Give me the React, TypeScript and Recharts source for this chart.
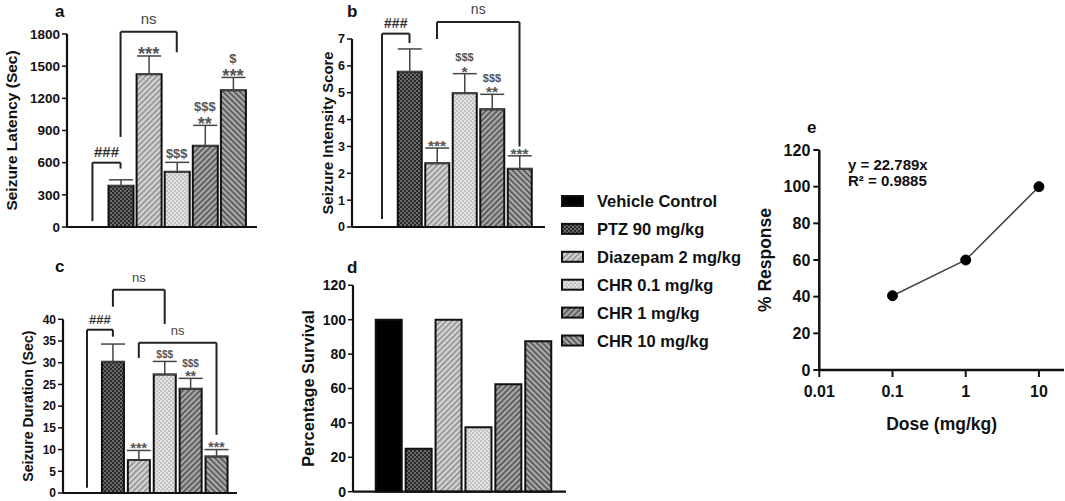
import { Bar, Cell, ComposedChart, ErrorBar, LabelList, Line, LineChart, ReferenceLine, XAxis, YAxis } from "recharts";

const FONT = '"Liberation Sans", Arial, Helvetica, sans-serif';
const INK = "#111";

const GROUPS = ["Vehicle Control", "PTZ 90 mg/kg", "Diazepam 2 mg/kg", "CHR 0.1 mg/kg", "CHR 1 mg/kg", "CHR 10 mg/kg"];
const FILLS = ["#000", "url(#pat-ptz)", "url(#pat-diaz)", "url(#pat-chr01)", "url(#pat-chr1)", "url(#pat-chr10)"];

// a: seizure latency (sec)
const latency = [null, 385, 1425, 515, 758, 1275];
const latencyErr = [null, 55, 170, 88, 190, 120];
const latencySig = ["", "", "***", "$$$", "$$$|**", "$|***"];
const latencyTicks = [0, 300, 600, 900, 1200, 1500, 1800];

// b: seizure intensity score
const intensity = [null, 5.78, 2.37, 4.98, 4.38, 2.17];
const intensityErr = [null, 0.85, 0.57, 0.73, 0.56, 0.48];
const intensitySig = ["", "", "***", "$$$|*", "$$$|**", "***"];
const intensityTicks = [0, 1, 2, 3, 4, 5, 6, 7];

// c: seizure duration (sec)
const duration = [null, 30.2, 7.6, 27.3, 24.0, 8.4];
const durationErr = [null, 4.1, 2.2, 3.0, 2.4, 1.6];
const durationSig = ["", "", "***", "$$$", "$$$|**", "***"];
const durationTicks = [0, 5, 10, 15, 20, 25, 30, 35, 40];

// d: percentage survival
const survival = [100, 25, 100, 37.5, 62.5, 87.5];
const survivalTicks = [0, 20, 40, 60, 80, 100, 120];

// e: dose response
const doses = [0.1, 1, 10];
const response = [40.5, 60, 100];
const doseTicks = [0.01, 0.1, 1, 10];
const responseTicks = [0, 20, 40, 60, 80, 100, 120];

type Bracket = { from: number; to: number; top: number; leftEnd: number; rightEnd: number; text: string };

const latencyBrackets: Bracket[] = [
  { from: 0, to: 1, top: 600, leftEnd: 55, rightEnd: 545, text: "###" },
  { from: 1, to: 3, top: 1820, leftEnd: 840, rightEnd: 1630, text: "ns" },
];
const intensityBrackets: Bracket[] = [
  { from: 0, to: 1, top: 7.2, leftEnd: 0.3, rightEnd: 6.85, text: "###" },
  { from: 2, to: 5, top: 7.63, leftEnd: 7.0, rightEnd: 3.0, text: "ns" },
];
const durationBrackets: Bracket[] = [
  { from: 0, to: 1, top: 37.6, leftEnd: 1.2, rightEnd: 36.0, text: "###" },
  { from: 1, to: 3, top: 46.8, leftEnd: 42.9, rightEnd: 38.9, text: "ns" },
  { from: 2, to: 5, top: 34.6, leftEnd: 31.1, rightEnd: 13.4, text: "ns" },
];

// significance marks stacked above the error-bar cap, bottom line first
const renderSig = (size: number) => (props: any) => {
  const { x, y, value } = props;
  if (!value || y == null) return null;
  const lines = String(value).split("|").reverse();
  const gap = size * 0.3;
  let bottom = y - 3;
  const out: any[] = [];
  lines.forEach((line, k) => {
    const star = line.startsWith("*");
    const fs = star ? size * 1.4 : size;
    const baseline = star ? bottom + fs * 0.4 : bottom - fs * 0.08;
    const topEdge = star ? baseline - fs * 0.74 : baseline - fs * 0.78;
    out.push(
      <text key={k} x={x} y={baseline} textAnchor="middle" fontSize={fs} fontWeight={700} fill="#555" fontFamily={FONT}>
        {line}
      </text>
    );
    bottom = topEdge - gap;
  });
  return <g>{out}</g>;
};

type PanelProps = {
  left: number;
  top: number;
  width: number;
  height: number;
  marginTop: number;
  marginRight: number;
  axisWidth: number;
  axisHeight: number;
  max: number;
  ticks: number[];
  values: (number | null)[];
  errs?: (number | null)[];
  sigs?: string[];
  brackets?: Bracket[];
  yLabel: string;
  yLabelX: number;
  yLabelSize: number;
  tickFont: number;
  barSize: number;
  pad: [number, number];
  sigFont?: number;
  nsFont?: number;
};

function BarPanel(p: PanelProps) {
  const rows = GROUPS.map((name, i) => {
    const v = p.values[i];
    const e = p.errs ? p.errs[i] : null;
    return {
      name,
      v,
      err: e == null ? null : [0, e],
      cap: v == null || e == null ? null : v + e,
      sig: p.sigs ? p.sigs[i] : "",
    };
  });
  const lineProps = { stroke: "#222", strokeWidth: 2, ifOverflow: "visible" as const };
  return (
    <div style={{ position: "absolute", left: p.left, top: p.top }}>
      <ComposedChart
        width={p.width}
        height={p.height}
        data={rows}
        margin={{ top: p.marginTop, right: p.marginRight, left: 0, bottom: 0 }}
      >
        <XAxis
          dataKey="name"
          type="category"
          tick={false}
          tickLine={false}
          axisLine={{ stroke: INK, strokeWidth: 2.2 }}
          height={p.axisHeight}
          padding={{ left: p.pad[0], right: p.pad[1] }}
        />
        <YAxis
          type="number"
          domain={[0, p.max]}
          ticks={p.ticks}
          interval={0}
          width={p.axisWidth}
          tickSize={5}
          tickMargin={2}
          axisLine={{ stroke: INK, strokeWidth: 2.2 }}
          tickLine={{ stroke: INK, strokeWidth: 1.5 }}
          tick={{ fontSize: p.tickFont, fontWeight: 700, fill: INK, fontFamily: FONT }}
          label={{
            value: p.yLabel,
            angle: -90,
            position: "insideLeft",
            offset: p.yLabelX,
            fill: INK,
            style: { textAnchor: "middle", fontSize: p.yLabelSize, fontWeight: 700, fill: INK, fontFamily: FONT },
          }}
        />
        <Bar dataKey="v" barSize={p.barSize} stroke={INK} strokeWidth={2} isAnimationActive={false}>
          {rows.map((r, i) => (
            <Cell key={r.name} fill={FILLS[i]} />
          ))}
          {p.errs && <ErrorBar dataKey="err" width={12} stroke="#444" strokeWidth={1.5} direction="y" />}
        </Bar>
        {p.sigs && (
          <Line dataKey="cap" stroke="none" dot={false} activeDot={false} legendType="none" isAnimationActive={false}>
            <LabelList dataKey="sig" content={renderSig(p.sigFont ?? 12)} />
          </Line>
        )}
        {(p.brackets ?? []).flatMap((b, k) => {
          const a = GROUPS[b.from];
          const z = GROUPS[b.to];
          const hash = b.text.startsWith("#");
          return [
            <ReferenceLine key={`l${k}`} segment={[{ x: a, y: b.leftEnd }, { x: a, y: b.top }]} {...lineProps} />,
            <ReferenceLine
              key={`h${k}`}
              segment={[{ x: a, y: b.top }, { x: z, y: b.top }]}
              {...lineProps}
              label={{
                value: b.text,
                position: "top",
                offset: hash ? 6 : 8,
                fill: hash ? "#333" : "#444",
                fontSize: p.nsFont ?? 14,
                fontWeight: hash ? 700 : 400,
                fontFamily: FONT,
              }}
            />,
            <ReferenceLine key={`r${k}`} segment={[{ x: z, y: b.top }, { x: z, y: b.rightEnd }]} {...lineProps} />,
          ];
        })}
      </ComposedChart>
    </div>
  );
}

function DosePanel() {
  const rows = doses.map((dose, i) => ({ dose, response: response[i] }));
  return (
    <div style={{ position: "absolute", left: 730, top: 100 }}>
      <LineChart width={335} height={340} data={rows} margin={{ top: 50, right: 1, left: 0, bottom: 0 }}>
        <XAxis
          dataKey="dose"
          type="number"
          scale="log"
          domain={[0.01, 22]}
          allowDataOverflow
          ticks={doseTicks}
          interval={0}
          tickFormatter={(v) => String(v)}
          height={70}
          tickSize={7}
          tickMargin={9}
          axisLine={{ stroke: INK, strokeWidth: 2.5 }}
          tickLine={{ stroke: INK, strokeWidth: 2 }}
          tick={{ fontSize: 16, fontWeight: 700, fill: INK, fontFamily: FONT }}
          label={{
            value: "Dose (mg/kg)",
            position: "insideBottom",
            offset: 10,
            fill: INK,
            style: { fontSize: 17.5, fontWeight: 700, fill: INK, fontFamily: FONT },
          }}
        />
        <YAxis
          type="number"
          domain={[0, 120]}
          ticks={responseTicks}
          interval={0}
          width={89.3}
          tickSize={6}
          tickMargin={3}
          axisLine={{ stroke: INK, strokeWidth: 2.5 }}
          tickLine={{ stroke: INK, strokeWidth: 2 }}
          tick={{ fontSize: 16, fontWeight: 700, fill: INK, fontFamily: FONT }}
          label={{
            value: "% Response",
            angle: -90,
            position: "insideLeft",
            offset: 35,
            fill: INK,
            style: { textAnchor: "middle", fontSize: 17.5, fontWeight: 700, fill: INK, fontFamily: FONT },
          }}
        />
        <Line
          dataKey="response"
          type="linear"
          stroke="#444"
          strokeWidth={1.5}
          dot={{ r: 5, fill: "#000", stroke: "#000", strokeWidth: 1 }}
          activeDot={false}
          isAnimationActive={false}
        />
      </LineChart>
    </div>
  );
}

function Overlay() {
  const titleStyle = { fontSize: 17, fontWeight: 700, fill: INK, fontFamily: FONT };
  return (
    <svg width={1065} height={501} style={{ position: "absolute", left: 0, top: 0, pointerEvents: "none" }}>
      <defs>
        <pattern id="pat-ptz" width={4} height={4} patternUnits="userSpaceOnUse">
          <rect width={4} height={4} fill="#6a6a6a" />
          <rect width={2} height={2} fill="#2a2a2a" />
          <rect x={2} y={2} width={2} height={2} fill="#2a2a2a" />
        </pattern>
        <pattern id="pat-diaz" width={4} height={4} patternUnits="userSpaceOnUse" patternTransform="rotate(45)">
          <rect width={4} height={4} fill="#d4d4d4" />
          <rect width={1.5} height={4} fill="#8a8a8a" />
        </pattern>
        <pattern id="pat-chr01" width={4} height={4} patternUnits="userSpaceOnUse">
          <rect width={4} height={4} fill="#e2e2e2" />
          <circle cx={1} cy={1} r={0.8} fill="#999" />
          <circle cx={3} cy={3} r={0.8} fill="#999" />
        </pattern>
        <pattern id="pat-chr1" width={4} height={4} patternUnits="userSpaceOnUse" patternTransform="rotate(45)">
          <rect width={4} height={4} fill="#a8a8a8" />
          <rect width={1.6} height={4} fill="#505050" />
        </pattern>
        <pattern id="pat-chr10" width={4} height={4} patternUnits="userSpaceOnUse" patternTransform="rotate(-45)">
          <rect width={4} height={4} fill="#ababab" />
          <rect width={1.6} height={4} fill="#505050" />
        </pattern>
      </defs>
      <text x={55} y={17} style={titleStyle}>a</text>
      <text x={347} y={17} style={titleStyle}>b</text>
      <text x={55} y={272} style={titleStyle}>c</text>
      <text x={347} y={273} style={titleStyle}>d</text>
      <text x={807} y={133} style={titleStyle}>e</text>
      <text x={848} y={170} style={{ fontSize: 15, fontWeight: 700, fill: INK, fontFamily: FONT }}>y = 22.789x</text>
      <text x={848} y={186} style={{ fontSize: 15, fontWeight: 700, fill: INK, fontFamily: FONT }}>R² = 0.9885</text>
      {GROUPS.map((g, i) => {
        const cy = 201 + i * 27.9;
        return (
          <g key={g}>
            <rect x={562} y={cy - 5} width={21} height={10} fill={FILLS[i]} stroke={INK} strokeWidth={2} />
            <text x={597} y={cy + 6} style={{ fontSize: 16.5, fontWeight: 700, fill: INK, fontFamily: FONT }}>
              {g}
            </text>
          </g>
        );
      })}
    </svg>
  );
}

export default function App() {
  return (
    <div style={{ position: "absolute", left: 0, top: 0, width: 1065, height: 501, background: "#fff", fontFamily: FONT }}>
      <BarPanel
        left={0}
        top={0}
        width={260}
        height={240}
        marginTop={34}
        marginRight={3}
        axisWidth={67}
        axisHeight={13}
        max={1800}
        ticks={latencyTicks}
        values={latency}
        errs={latencyErr}
        sigs={latencySig}
        brackets={latencyBrackets}
        yLabel="Seizure Latency (Sec)"
        yLabelX={11}
        yLabelSize={15.5}
        tickFont={13.5}
        barSize={25}
        pad={[11.4, 10]}
        sigFont={13}
        nsFont={15}
      />
      <BarPanel
        left={290}
        top={0}
        width={260}
        height={240}
        marginTop={39}
        marginRight={5}
        axisWidth={62}
        axisHeight={13}
        max={7}
        ticks={intensityTicks}
        values={intensity}
        errs={intensityErr}
        sigs={intensitySig}
        brackets={intensityBrackets}
        yLabel="Seizure Intensity Score"
        yLabelX={38}
        yLabelSize={14.8}
        tickFont={12.5}
        barSize={24}
        pad={[16.25, 11.75]}
        sigFont={11}
        nsFont={14}
      />
      <BarPanel
        left={0}
        top={250}
        width={250}
        height={251}
        marginTop={69.3}
        marginRight={13}
        axisWidth={63}
        axisHeight={8}
        max={40}
        ticks={durationTicks}
        values={duration}
        errs={durationErr}
        sigs={durationSig}
        brackets={durationBrackets}
        yLabel="Seizure Duration (Sec)"
        yLabelX={27.5}
        yLabelSize={14.2}
        tickFont={12}
        barSize={22}
        pad={[11.05, 7.55]}
        sigFont={10}
        nsFont={13}
      />
      <BarPanel
        left={290}
        top={250}
        width={290}
        height={251}
        marginTop={35.3}
        marginRight={14}
        axisWidth={63}
        axisHeight={9.3}
        max={120}
        ticks={survivalTicks}
        values={survival}
        yLabel="Percentage Survival"
        yLabelX={18}
        yLabelSize={16.4}
        tickFont={14}
        barSize={26}
        pad={[20.75, 12.85]}
      />
      <DosePanel />
      <Overlay />
    </div>
  );
}
